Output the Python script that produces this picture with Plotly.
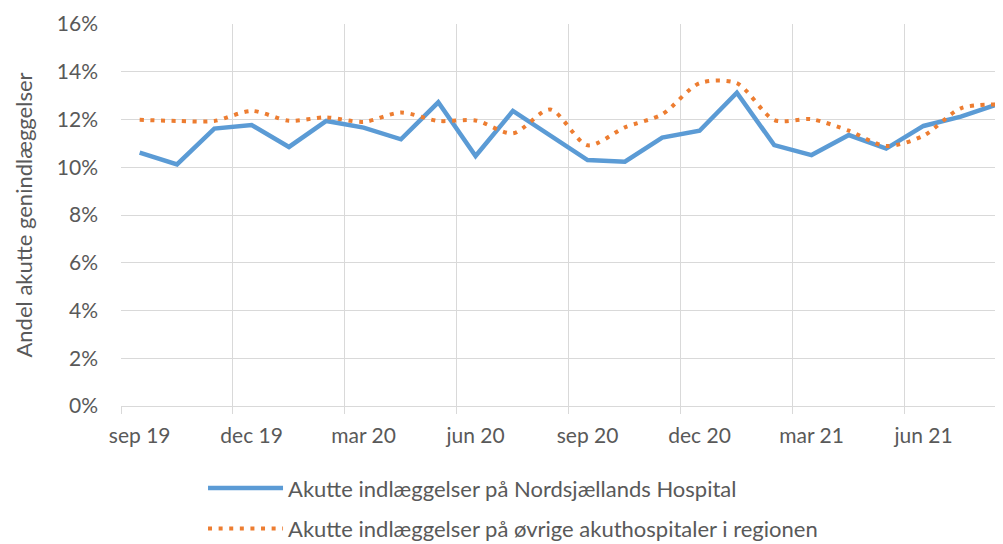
import plotly.graph_objects as go

months = ["sep 19", "okt 19", "nov 19", "dec 19", "jan 20", "feb 20", "mar 20", "apr 20",
          "maj 20", "jun 20", "jul 20", "aug 20", "sep 20", "okt 20", "nov 20", "dec 20",
          "jan 21", "feb 21", "mar 21", "apr 21", "maj 21", "jun 21", "jul 21", "aug 21"]

nordsjaelland = [10.61, 10.12, 11.62, 11.77, 10.85, 11.94, 11.66, 11.17, 12.72, 10.47, 12.36, 11.35,
                 10.30, 10.23, 11.24, 11.53, 13.12, 10.93, 10.51, 11.35, 10.78, 11.73, 12.12, 12.65]

oevrige = [11.99, 11.94, 11.94, 12.36, 11.95, 12.09, 11.90, 12.29, 11.94, 11.96, 11.42, 12.42,
           10.92, 11.67, 12.22, 13.52, 13.52, 11.98, 12.01, 11.53, 10.89, 11.32, 12.47, 12.63]

name_a = "Akutte indlæggelser på Nordsjællands Hospital"
name_b = "Akutte indlæggelser på øvrige akuthospitaler i regionen"

x = list(range(len(months)))

GRID = "#d9d9d9"
TXT = "#595959"
FONT = "Lato"
FS = 21
FS_BIG = 22

fig = go.Figure()
fig.add_trace(go.Scatter(x=x, y=nordsjaelland, mode="lines", name=name_a,
                         line=dict(color="#5B9BD5", width=4.5), legendgroup="a"))
fig.add_trace(go.Scatter(x=x, y=oevrige, mode="lines", name=name_b,
                         line=dict(color="#ED7D31", width=4, dash="4px,6.6px", shape="spline", smoothing=0.8),
                         legendgroup="b"))

# the page body adds an 8px margin, so the figure is 995x536 to fit the 1003x544 window
fig.update_layout(
    width=995, height=536,
    margin=dict(l=113, r=0, t=16, b=138, autoexpand=False),
    paper_bgcolor="white", plot_bgcolor="white",
    font=dict(family=FONT, size=FS, color=TXT),
    showlegend=True,
    legend=dict(x=0.093, y=-0.16, xanchor="left", yanchor="top",
                traceorder="grouped", tracegroupgap=9, itemwidth=75,
                font=dict(family=FONT, size=FS_BIG, color=TXT), bgcolor="rgba(0,0,0,0)"),
)

fig.update_xaxes(
    range=[-0.5, 23.13], automargin=False,
    tickmode="array", tickvals=x[::3], ticktext=months[::3],
    showgrid=False, ticks="", ticklabelstandoff=11,
    showline=True, linecolor=GRID, linewidth=1, zeroline=False,
    tickfont=dict(family=FONT, size=FS, color=TXT),
    minor=dict(tickmode="array", tickvals=[v - 0.5 for v in x[::3]],
               showgrid=True, gridcolor=GRID, gridwidth=1,
               ticks="outside", ticklen=7, tickcolor=GRID, tickwidth=1),
)

fig.update_yaxes(
    range=[0, 16], dtick=2, ticksuffix="%", automargin=False,
    showgrid=True, gridcolor=GRID, gridwidth=1, zeroline=False,
    showline=False, ticks="", ticklabelstandoff=22,
    tickfont=dict(family=FONT, size=FS, color=TXT),
    title=dict(text="Andel akutte genindlæggelser", standoff=18,
               font=dict(family=FONT, size=FS_BIG, color=TXT)),
)

fig.write_html("out.html")
